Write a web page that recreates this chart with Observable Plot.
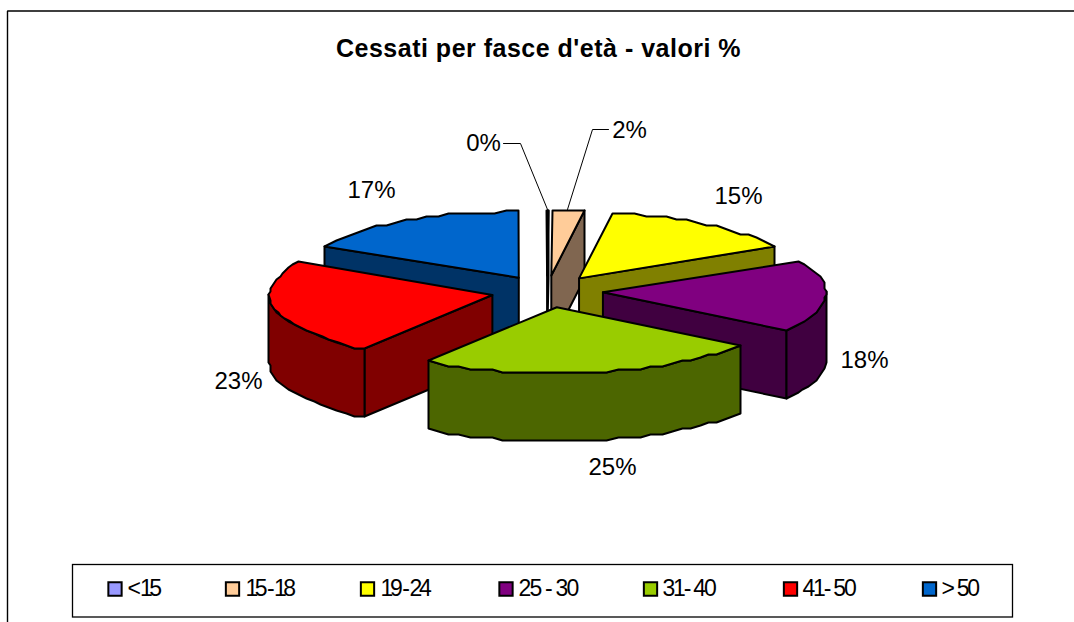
<!DOCTYPE html>
<html><head><meta charset="utf-8">
<style>html,body{margin:0;padding:0;background:#fff;overflow:hidden}svg{display:block}
.chart-title{letter-spacing:.5px}</style>
<script src="https://cdn.jsdelivr.net/npm/d3@7"></script>
<script src="https://cdn.jsdelivr.net/npm/@observablehq/plot@0.6"></script>
</head><body><script>
// ---- data ----
const legendLabels = ["< 15","15 - 18","19 - 24","25 - 30","31- 40","41- 50","> 50"];
const shares = [0.05,2.35,14.6,17.7,25,23.49,16.81];
const shareLabels = ["0%","2%","15%","18%","25%","23%","17%"];
const topColors = ["#9999FF","#FFCC99","#FFFF00","#800080","#99CC00","#FF0000","#0066CC"];
const sideColors = ["#4C4C80","#806650","#808000","#400040","#4C6600","#800000","#003366"];
const drawOrder = [6,0,1,2,3,5,4];
// ---- pie layout, in pie units (1 unit on x = horizontal radius, 1 on y = vertical radius) ----
const W=1074,H=622,cx=546.5,cy=291,rx=223,ry=66;
const ux=p=>(p-cx)/rx, uy=p=>(cy-p)/ry;
const labelAnchors = [[483,143],[629,130],[738,196],[864,360],[612,467],[238,381],[371,190]];
const leaders = [[[503,143],[520,143],[547,209]],[[608,129],[592,129],[567,209]]];
const explodeX=56/rx, explodeY=16/ry, depth=68/ry, snapXpx=2, snapYpx=3;
const rad=d=>d*Math.PI/180;
const snapX=u=>ux(Math.round((u*rx+cx)/snapXpx)*snapXpx), snapY=u=>uy(Math.round((cy-u*ry)/snapYpx)*snapYpx);
let cum=0;
const wedges=shares.map((v,i)=>{const a0=cum*3.6;cum+=v;const a1=cum*3.6;const m=rad((a0+a1)/2);
  return {i,a0,a1,ax:explodeX*Math.sin(m),ay:explodeY*Math.cos(m)};});
const rim=(w,a)=>[snapX(w.ax+Math.sin(rad(a))),snapY(w.ay+Math.cos(rad(a)))];
const arcPts=(w,a0,a1)=>{const out=[];const n=Math.max(1,Math.round((a1-a0)/3));
  for(let k=0;k<=n;k++)out.push(rim(w,a0+(a1-a0)*k/n));return out;};
const polys=[];let pid=0;
const add=(pts,fill)=>{pid++;pts.forEach(p=>polys.push({x:p[0],y:p[1],id:pid,fill}));};
for(const o of drawOrder){const w=wedges[o],side=sideColors[o],apex=[w.ax,w.ay];
  const drop=p=>[p[0],p[1]-depth];
  if(Math.sin(rad(w.a0))<0){const s=rim(w,w.a0);add([apex,s,drop(s),drop(apex)],side);}
  if(Math.sin(rad(w.a1))>0){const e=rim(w,w.a1);add([apex,e,drop(e),drop(apex)],side);}
  const f0=Math.max(w.a0,90),f1=Math.min(w.a1,270);
  if(f1>f0){const a=arcPts(w,f0,f1);add([...a,...a.slice().reverse().map(drop)],side);}
  add([apex,...arcPts(w,w.a0,w.a1)],topColors[o]);
}
// ---- legend layout ----
const legendKeyX=[114.5,232,367,505.5,650,790,929];
const legendTextX=[127,245,380,518,662,802,941];
const legendTracking=[-3.6,-3.5,-3.4,-1.8,-2.2,-2.2,-2.3];
const legendY=588.5;
const legendRows=legendLabels.map((t,i)=>({t,fill:topColors[i],kx:ux(legendKeyX[i]),tx:ux(legendTextX[i]),y:uy(legendY)}));
const labels=shareLabels.map((t,i)=>({t,x:ux(labelAnchors[i][0]),y:uy(labelAnchors[i][1])}));
const font="Liberation Sans, Arial, sans-serif";
const pxLine=pts=>Plot.line(pts,{x:d=>ux(d[0]),y:d=>uy(d[1]),stroke:"#000",strokeWidth:1});
const chart=Plot.plot({width:W,height:H,margin:0,
  x:{domain:[ux(0),ux(W)],range:[0,W],axis:null},
  y:{domain:[uy(H),uy(0)],range:[H,0],axis:null},
  style:{background:"#fff",fontFamily:font},
  marks:[
    Plot.line([[7,622],[7,10.5],[1074,10.5]],{x:d=>ux(d[0]),y:d=>uy(d[1]),stroke:"#000",strokeWidth:1.4,strokeLinejoin:"miter"}),
    Plot.rect([0],{x1:ux(72.5),x2:ux(1012.5),y1:uy(564.5),y2:uy(617),fill:"none",stroke:"#000",strokeWidth:1.3}),
    Plot.text(["Cessati per fasce d'età - valori %"],{x:ux(538),y:uy(48),text:d=>d,fontSize:25,fontWeight:"bold",fill:"#000",className:"chart-title"}),
    ...leaders.map(pxLine),
    Plot.line(polys,{x:"x",y:"y",z:"id",fill:"fill",stroke:"#000",strokeWidth:2,curve:"linear-closed",strokeLinejoin:"round"}),
    Plot.text(labels,{x:"x",y:"y",text:"t",fontSize:24,fill:"#000"}),
    Plot.dot(legendRows,{x:"kx",y:"y",symbol:"square",r:7.5,fill:"fill",stroke:"#000",strokeWidth:2}),
    Plot.text(legendRows,{x:"tx",y:"y",text:"t",textAnchor:"start",fontSize:23,fill:"#000",className:"legend-text"})
  ]});
document.body.appendChild(chart);
d3.select(chart).selectAll(".legend-text text").style("letter-spacing",(d,i)=>legendTracking[i]+"px");
</script></body></html>
